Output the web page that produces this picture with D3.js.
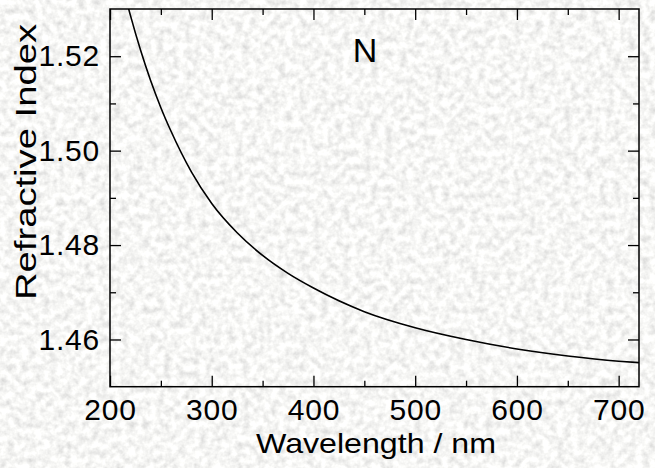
<!DOCTYPE html>
<html><head><meta charset="utf-8">
<script src="https://cdn.jsdelivr.net/npm/d3@7"></script>
<style>html,body{margin:0;padding:0;background:#e8e8e6;overflow:hidden}</style>
</head><body>
<svg id="chart" width="655" height="468"></svg>
<script>
// ---- data ----
const wavelengths = [210,220,230,240,250,260,280,300,325,350,375,400,450,500,550,600,650,700,720];
const refractiveIndex = [1.5370,1.5287,1.5213,1.5148,1.5091,1.5041,1.4955,1.4888,1.4826,1.4778,1.4740,1.4709,1.4659,1.4625,1.4600,1.4580,1.4565,1.4554,1.4551];
const xMajorTicks = [200,300,400,500,600,700];
const xMinorTicks = [250,350,450,550,650];
const yMajorTicks = [1.46,1.48,1.50,1.52];
const yMinorTicks = [1.47,1.49,1.51];
const xLabel = "Wavelength / nm";
const yLabel = "Refractive Index";
const panelLabel = "N";

const W = 655, H = 468;
const m = {left:110, top:9, right:639, bottom:386.7};
const svg = d3.select("#chart");
const font = "'Liberation Sans', Arial, Helvetica, sans-serif";

// textured background
const defs = svg.append("defs");
const f = defs.append("filter").attr("id","noise").attr("x",0).attr("y",0).attr("width","100%").attr("height","100%");
f.append("feTurbulence").attr("type","fractalNoise").attr("baseFrequency","0.14").attr("numOctaves",3).attr("seed",5).attr("result","t");
f.append("feColorMatrix").attr("in","t").attr("type","matrix")
  .attr("values","0.55 0 0 0 0.65  0.55 0 0 0 0.65  0.53 0 0 0 0.645  0 0 0 0 1");
svg.append("rect").attr("width",W).attr("height",H).attr("fill","#e8e8e6").attr("filter","url(#noise)");

defs.append("clipPath").attr("id","plotclip").append("rect")
  .attr("x",m.left).attr("y",m.top).attr("width",m.right-m.left).attr("height",m.bottom-m.top);

const x = d3.scaleLinear().domain([200,720]).range([m.left,m.right]);
const y = d3.scaleLinear().domain([1.45,1.53]).range([m.bottom,m.top]);

function styleAxis(g){
  g.select(".domain").remove();
  g.selectAll("line").attr("stroke","#000").attr("stroke-width",1.3);
  g.selectAll("text").attr("font-family",font).attr("font-size",30).attr("letter-spacing","0.8px").attr("fill","#000");
}
// bottom
svg.append("g").attr("transform",`translate(0,${m.bottom})`)
  .call(d3.axisBottom(x).tickValues(xMajorTicks).tickSize(-11).tickPadding(12).tickFormat(d3.format("d")))
  .call(styleAxis);
svg.append("g").attr("transform",`translate(0,${m.bottom})`)
  .call(d3.axisBottom(x).tickValues(xMinorTicks).tickSize(-6).tickFormat(""))
  .call(styleAxis);
// top
svg.append("g").attr("transform",`translate(0,${m.top})`)
  .call(d3.axisTop(x).tickValues(xMajorTicks).tickSize(-11).tickFormat(""))
  .call(styleAxis);
svg.append("g").attr("transform",`translate(0,${m.top})`)
  .call(d3.axisTop(x).tickValues(xMinorTicks).tickSize(-6).tickFormat(""))
  .call(styleAxis);
// left
svg.append("g").attr("transform",`translate(${m.left},0)`)
  .call(d3.axisLeft(y).tickValues(yMajorTicks).tickSize(-11).tickPadding(10).tickFormat(d3.format(".2f")))
  .call(styleAxis);
svg.append("g").attr("transform",`translate(${m.left},0)`)
  .call(d3.axisLeft(y).tickValues(yMinorTicks).tickSize(-6).tickFormat(""))
  .call(styleAxis);
// right
svg.append("g").attr("transform",`translate(${m.right},0)`)
  .call(d3.axisRight(y).tickValues(yMajorTicks).tickSize(-11).tickFormat(""))
  .call(styleAxis);
svg.append("g").attr("transform",`translate(${m.right},0)`)
  .call(d3.axisRight(y).tickValues(yMinorTicks).tickSize(-6).tickFormat(""))
  .call(styleAxis);

// frame
svg.append("rect").attr("x",m.left).attr("y",m.top).attr("width",m.right-m.left).attr("height",m.bottom-m.top)
  .attr("fill","none").attr("stroke","#000").attr("stroke-width",1.5);

// curve
const pts = wavelengths.map((w,i)=>[w,refractiveIndex[i]]);
svg.append("path").datum(pts).attr("clip-path","url(#plotclip)")
  .attr("d", d3.line().x(d=>x(d[0])).y(d=>y(d[1])).curve(d3.curveMonotoneX))
  .attr("fill","none").attr("stroke","#000").attr("stroke-width",1.6);

// labels
svg.append("text").attr("x",376).attr("y",453.3).attr("text-anchor","middle")
  .attr("font-family",font).attr("font-size",28).attr("textLength",240).attr("lengthAdjust","spacingAndGlyphs")
  .text(xLabel);
svg.append("text").attr("transform","translate(36,162) rotate(-90)").attr("text-anchor","middle")
  .attr("font-family",font).attr("font-size",29).attr("textLength",276).attr("lengthAdjust","spacingAndGlyphs")
  .text(yLabel);
svg.append("text").attr("x",365).attr("y",61.7).attr("text-anchor","middle")
  .attr("font-family",font).attr("font-size",34).text(panelLabel);
</script>
</body></html>
